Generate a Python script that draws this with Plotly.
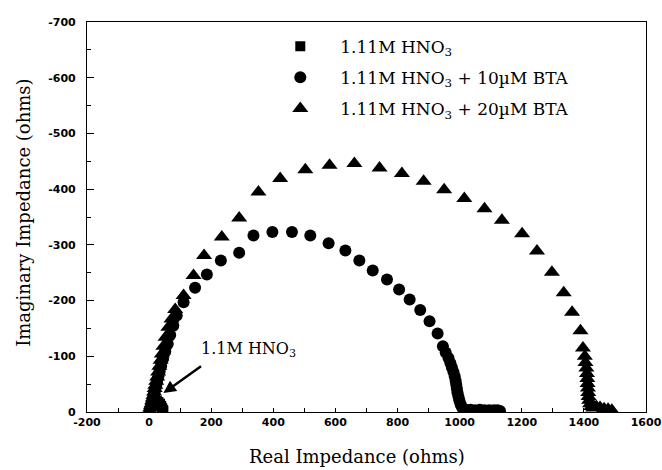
import plotly.graph_objects as go

# ---- data ----
hno3_x = [2, 4, 6, 9, 12, 16, 20, 25, 30, 35, 39, 42, 44, 46]
hno3_y = [-2, -6, -10, -14, -17, -19, -20, -20, -18, -15, -11, -7, -4, -2]

bta10_x = [3, 5, 7, 9, 11, 13, 15, 17, 20, 23, 26, 30, 34, 39, 45, 52, 60, 68, 78,
           89, 111, 148, 186, 231, 290, 336, 397, 460, 519, 578, 632, 677, 720,
           766, 805, 839, 873, 903, 929, 946, 955, 964, 970, 975, 980, 984, 987,
           989, 991, 993, 996, 999, 1003, 1007, 1012, 1020, 1035, 1050, 1065,
           1080, 1095, 1110, 1122, 1130]
bta10_y = [-2, -6, -10, -14, -19, -24, -29, -35, -41, -48, -56, -64, -73, -83, -95,
           -108, -122, -138, -155, -173, -197, -223, -247, -272, -286, -317, -323,
           -323, -317, -303, -290, -272, -254, -238, -220, -202, -183, -163, -141,
           -118, -107, -97, -88, -80, -72, -64, -56, -49, -42, -35, -28, -21, -14,
           -9, -5, -4, -4, -3, -4, -3, -3, -3, -3, -2]

bta20_x = [2, 4, 6, 8, 10, 12, 14, 16, 18, 20, 23, 26, 29, 33, 37, 41, 46, 53, 62,
           72, 84, 111, 143, 177, 234, 290, 352, 422, 503, 581, 661, 742, 814,
           884, 950, 1015, 1080, 1136, 1201, 1249, 1297, 1335, 1362, 1389, 1397,
           1403, 1405, 1408, 1410, 1411, 1412, 1413, 1414, 1415, 1417, 1420,
           1424, 1430, 1440, 1452, 1465, 1478, 1490]
bta20_y = [-3, -7, -11, -15, -20, -25, -30, -36, -42, -48, -55, -63, -72, -82, -93,
           -104, -118, -134, -152, -167, -184, -209, -245, -281, -314, -348, -395,
           -419, -435, -443, -446, -438, -428, -414, -399, -383, -365, -344, -320,
           -289, -251, -214, -179, -146, -115, -100, -89, -79, -69, -60, -51, -43,
           -35, -28, -21, -15, -10, -7, -10, -8, -6, -5, -3]

names = ["1.11M HNO<sub>3</sub>",
         "1.11M HNO<sub>3</sub> + 10µM BTA",
         "1.11M HNO<sub>3</sub> + 20µM BTA"]

x_ticks = [-200, 0, 200, 400, 600, 800, 1000, 1200, 1400, 1600]
y_ticks = [0, -100, -200, -300, -400, -500, -600, -700]

SERIF = "DejaVu Serif"
SANS = "DejaVu Sans"

fig = go.Figure()
fig.add_trace(go.Scatter(x=hno3_x, y=hno3_y, mode="markers", name=names[0],
                         legendgroup="a",
                         marker=dict(symbol="square", size=10, color="black")))
fig.add_trace(go.Scatter(x=bta10_x, y=bta10_y, mode="markers", name=names[1],
                         legendgroup="b",
                         marker=dict(symbol="circle", size=12, color="black")))
fig.add_trace(go.Scatter(x=bta20_x, y=bta20_y, mode="markers", name=names[2],
                         legendgroup="c",
                         marker=dict(symbol="triangle-up", size=14, color="black")))

axis_common = dict(showgrid=False, zeroline=False, showline=True, linecolor="black",
                   linewidth=1.2, mirror=True, ticks="inside", tickcolor="black",
                   automargin=False,
                   tickfont=dict(family=SANS, size=11, color="black", weight="bold"))

fig.update_xaxes(range=[-200, 1600], tickvals=x_ticks,
                 ticktext=[str(v) for v in x_ticks],
                 ticklen=4, minor=dict(dtick=100, ticks="inside", ticklen=4,
                                       tickcolor="black"),
                 **axis_common)
fig.update_yaxes(range=[0, -700], tickvals=y_ticks,
                 ticktext=[str(v) for v in y_ticks],
                 ticklen=7, ticklabelstandoff=8,
                 minor=dict(dtick=50, ticks="inside", ticklen=4, tickcolor="black"),
                 **axis_common)

fig.update_layout(
    width=662, height=470,
    margin=dict(l=87, r=16, t=22, b=58),
    paper_bgcolor="white", plot_bgcolor="white",
    showlegend=True,
    legend=dict(x=0.31, y=0.983, xanchor="left", yanchor="top",
                bgcolor="rgba(0,0,0,0)", font=dict(family=SERIF, size=17, color="black"),
                traceorder="grouped", tracegroupgap=6, itemwidth=70),
    annotations=[
        dict(text="Real Impedance (ohms)", xref="paper", yref="paper",
             x=0.483, y=-0.114, xanchor="center", yanchor="middle",
             showarrow=False, font=dict(family=SERIF, size=18, color="black")),
        dict(text="Imaginary Impedance (ohms)", xref="paper", yref="paper",
             x=-0.115, y=0.51, xanchor="center", yanchor="middle", textangle=-90,
             showarrow=False, font=dict(family=SERIF, size=18, color="black")),
        dict(text="1.1M HNO<sub>3</sub>", xref="x", yref="y", x=319, y=-112,
             xanchor="center", yanchor="middle", showarrow=False,
             font=dict(family=SERIF, size=16, color="black")),
        dict(text="", xref="x", yref="y", x=46, y=-34, axref="x", ayref="y",
             ax=172, ay=-84, showarrow=True, arrowhead=2, arrowsize=1,
             arrowwidth=2.5, arrowcolor="black"),
    ],
)

fig.write_html("out.html", config={"displayModeBar": False},
               post_script="document.body.style.margin='0';")
